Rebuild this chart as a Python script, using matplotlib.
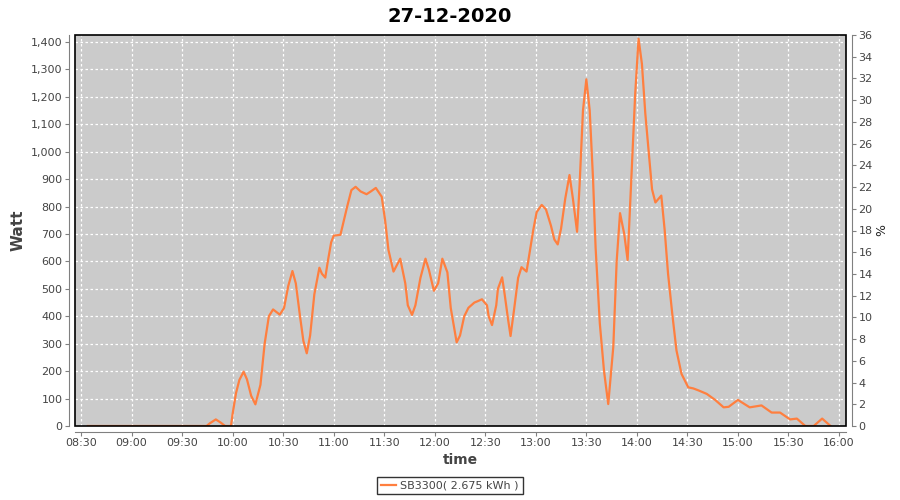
import matplotlib.pyplot as plt
from matplotlib.patches import Rectangle
from matplotlib.ticker import FuncFormatter, MultipleLocator

# readings of the SB3300 inverter on 27-12-2020
TIMES = [
    "08:34", "09:41", "09:44:30", "09:46:30", "09:50", "09:53", "09:55:30", "09:59",
    "10:00", "10:02", "10:04", "10:06:30", "10:08:30", "10:11", "10:13:30", "10:16:30",
    "10:19", "10:21:30", "10:24", "10:28", "10:30:30", "10:33", "10:35:30", "10:37:30",
    "10:40", "10:42", "10:44", "10:46", "10:48:30", "10:51:30", "10:53", "10:55",
    "10:56:30", "10:58:30", "11:00", "11:04", "11:08", "11:10:30", "11:13", "11:16",
    "11:19:30", "11:22", "11:25", "11:28:30", "11:30:30", "11:32:30", "11:35:30", "11:39:30",
    "11:42:30", "11:44", "11:46:30", "11:48:30", "11:51:30", "11:54:30", "11:56:30", "11:59:30",
    "12:02", "12:04:30", "12:07:30", "12:09:30", "12:13", "12:15", "12:17:30", "12:20",
    "12:23:30", "12:25:30", "12:28", "12:31", "12:32", "12:34", "12:36:30", "12:37:30",
    "12:40", "12:41:30", "12:43:30", "12:45", "12:47", "12:49:30", "12:51:30", "12:54:30",
    "12:58:30", "13:00:30", "13:03:30", "13:06", "13:09", "13:11", "13:13", "13:15",
    "13:17:30", "13:20", "13:22", "13:24:30", "13:26", "13:28", "13:30", "13:32",
    "13:34", "13:35:30", "13:38", "13:40:30", "13:43", "13:46", "13:48", "13:50",
    "13:52:30", "13:54:30", "13:57:30", "13:59", "14:01", "14:03", "14:05", "14:09",
    "14:11", "14:14:30", "14:16:30", "14:18:30", "14:21", "14:23:30", "14:26:30", "14:30:30",
    "14:33:30", "14:36:30", "14:41:30", "14:46:30", "14:51:30", "14:54:30", "15:00", "15:07",
    "15:14", "15:20", "15:25", "15:31", "15:35", "15:40", "15:45", "15:50",
    "15:55",
]
WATT = [
    0, 0, 0, 10, 24, 12, 0, 0,
    45, 120, 168, 198, 170, 110, 79, 150,
    300, 400, 425, 406, 430, 510, 565, 520,
    400, 310, 265, 330, 480, 577, 555, 541,
    600, 670, 694, 697, 800, 860, 872, 855,
    845, 855, 868, 836, 751, 642, 563, 610,
    520, 440, 405, 440, 540, 610, 570, 493,
    520, 610, 560, 430, 305, 330, 400, 431,
    450, 455, 462, 440, 400, 368, 440, 500,
    542, 480, 390, 328, 420, 540, 579, 563,
    715, 780, 806, 790, 730, 680, 662, 720,
    830, 915, 830, 708, 880, 1150, 1264, 1150,
    897, 650, 374, 200, 80, 288, 600, 776,
    700, 605, 1010, 1210, 1412, 1320, 1140, 863,
    815, 840, 715, 556, 410, 276, 190, 141,
    137, 130, 117, 95, 68, 70, 95, 68,
    75, 49, 49, 24, 27, 0, 0, 27,
    0,
]
SERIES_LABEL = "SB3300( 2.675 kWh )"
TITLE = "27-12-2020"


def toMinutes(t):
    parts = [int(p) for p in t.split(":")]
    while len(parts) < 3:
        parts.append(0)
    return parts[0] * 60 + parts[1] + parts[2] / 60


def hhmm(x, pos):
    x = int(round(x))
    return "%02d:%02d" % (x // 60, x % 60)


def main():
    fig = plt.figure(figsize=(9, 5), dpi=100)
    ax = fig.add_axes([75 / 900, 74 / 500, 771 / 900, 391 / 500])
    ax.set_facecolor("#cbcbcb")

    minutes = [toMinutes(t) for t in TIMES]
    line, = ax.plot(minutes, WATT, color="#ff7f3f", lw=1.6, zorder=3, label=SERIES_LABEL)

    ax.set_xlim(toMinutes("08:26:24"), toMinutes("16:04:10"))
    ax.set_ylim(0, 1425.5)
    ax.xaxis.set_major_locator(MultipleLocator(30))
    ax.xaxis.set_major_formatter(FuncFormatter(hhmm))
    ax.yaxis.set_major_locator(MultipleLocator(100))
    ax.yaxis.set_major_formatter(FuncFormatter(lambda v, p: "{:,.0f}".format(v)))
    ax.grid(True, color="white", linestyle=(0, (2, 2)), linewidth=0.9)
    ax.set_axisbelow(True)

    for side in ("left", "bottom"):
        ax.spines[side].set_position(("outward", 4))
        ax.spines[side].set_color("#808080")
    for side in ("top", "right"):
        ax.spines[side].set_visible(False)
    ax.tick_params(colors="#808080", labelcolor="#444444", labelsize=8, length=3, pad=2)
    ax.add_patch(Rectangle((0, 0), 1, 1, transform=ax.transAxes, fill=False,
                           edgecolor="black", lw=1.2, clip_on=False, zorder=5))

    ax2 = ax.twinx()
    ax2.set_ylim(0, 36)
    ax2.yaxis.set_major_locator(MultipleLocator(2))
    for side in ("left", "bottom", "top"):
        ax2.spines[side].set_visible(False)
    ax2.spines["right"].set_position(("outward", 4))
    ax2.spines["right"].set_color("#808080")
    ax2.tick_params(colors="#808080", labelcolor="#444444", labelsize=8, length=3, pad=2)
    ax2.set_ylabel("%", fontsize=9, color="#222222", labelpad=2)

    ax.set_xlabel("time", fontsize=10, fontweight="bold", color="#444444", labelpad=3)
    ax.set_ylabel("Watt", fontsize=11, fontweight="bold", color="#444444", labelpad=4)
    fig.suptitle(TITLE, x=0.5, y=0.985, fontsize=14, fontweight="bold")

    leg = fig.legend(handles=[line], loc="lower center", bbox_to_anchor=(0.5, 0.0),
                     fontsize=8, frameon=True, fancybox=False, handlelength=1.3,
                     handletextpad=0.4, borderpad=0.35)
    leg.get_frame().set_edgecolor("black")
    leg.get_frame().set_linewidth(1)
    for t in leg.get_texts():
        t.set_color("#444444")

    fig.savefig("out.png", dpi=100)


if __name__ == "__main__":
    main()
